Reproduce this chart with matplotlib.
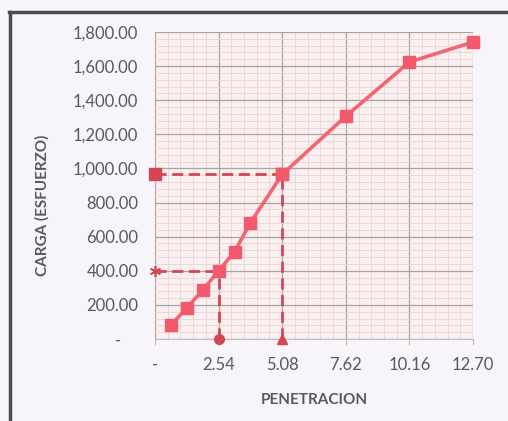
import numpy as np
import matplotlib.pyplot as plt
from matplotlib.ticker import MultipleLocator, FuncFormatter

# datos del ensayo CBR
penetracion = [0.64, 1.27, 1.91, 2.54, 3.18, 3.81, 5.08, 7.62, 10.16, 12.70]
carga = [82, 182, 287, 400, 512, 682, 965, 1306, 1624, 1741]

# lecturas a 2.54 y 5.08 mm
pen_ref = [2.54, 5.08]
carga_ref = [400, 965]

x_ticks = [0, 2.54, 5.08, 7.62, 10.16, 12.70]
y_ticks = [0, 200, 400, 600, 800, 1000, 1200, 1400, 1600, 1800]

plt.rcParams['font.family'] = ['Lato', 'DejaVu Sans']
txt = '#595959'
linea = '#F26674'
guia = '#D24753'

fig = plt.figure(figsize=(5.08, 4.21), dpi=100, facecolor='#f7f5fa')
ax = fig.add_axes([155/508, 1-339/421, 318/508, 307/421])

# papel milimetrado
ax.set_facecolor('#faf0f0')
ax.set_xlim(0, 12.70)
ax.set_ylim(0, 1800)
ax.set_xticks(x_ticks)
ax.set_yticks(y_ticks)
ax.xaxis.set_minor_locator(MultipleLocator(2.54/5))
ax.yaxis.set_minor_locator(MultipleLocator(40))
ax.grid(which='minor', color='#ead4d6', lw=0.6)
ax.grid(which='major', color='#aaa3a4', lw=0.9)
ax.set_axisbelow(True)

for s in ['top', 'right', 'left']:
    ax.spines[s].set_visible(False)
ax.spines['bottom'].set_color('#bdbdbd')

def fmt_y(v, pos):
    return '-    ' if v == 0 else f'{v:,.2f}'

def fmt_x(v, pos):
    return '-' if v == 0 else f'{v:.2f}'

ax.yaxis.set_major_formatter(FuncFormatter(fmt_y))
ax.xaxis.set_major_formatter(FuncFormatter(fmt_x))
ax.tick_params(axis='y', which='both', length=0, pad=12, labelsize=12, labelcolor=txt)
ax.tick_params(axis='x', which='major', length=4, color='#bdbdbd', pad=9, labelsize=12, labelcolor=txt)
ax.tick_params(axis='x', which='minor', length=0)

# lineas guia
dash = (0, (4, 2))
ax.plot([0, pen_ref[1]], [carga_ref[1], carga_ref[1]], ls=dash, color=guia, lw=2,
        marker='s', ms=8, clip_on=False, zorder=3)
ax.plot([0, pen_ref[0]], [carga_ref[0], carga_ref[0]], ls=dash, color=guia, lw=2,
        marker=(6, 2, 0), ms=8, mew=1.2, clip_on=False, zorder=3)
ax.plot([pen_ref[0], pen_ref[0]], [0, carga_ref[0]], ls=dash, color=guia, lw=2,
        marker='o', ms=7, clip_on=False, zorder=3)
ax.plot([pen_ref[1], pen_ref[1]], [0, carga_ref[1]], ls=dash, color=guia, lw=2,
        marker='^', ms=7, clip_on=False, zorder=3)

# curva
ax.plot(penetracion, carga, color=linea, lw=2.6, marker='s', ms=9, mfc='#F25A6B',
        mec='#F25A6B', clip_on=False, zorder=4)

ax.set_xlabel('PENETRACION', fontsize=11, fontweight='bold', color=txt)
ax.set_ylabel('CARGA (ESFUERZO)', fontsize=11, fontweight='bold', color=txt)
ax.xaxis.set_label_coords(0.5, -0.176)
ax.yaxis.set_label_coords(-0.33, 0.436)

# marco del grafico
fig.add_artist(plt.Line2D([10/508, 10/508], [0, 1-12/421], transform=fig.transFigure,
                          color='#4d4d4d', lw=2.5))
fig.add_artist(plt.Line2D([9/508, 1], [1-12/421, 1-12/421], transform=fig.transFigure,
                          color='#4d4d4d', lw=2.5))

fig.savefig('out.png', dpi=100, facecolor=fig.get_facecolor())
